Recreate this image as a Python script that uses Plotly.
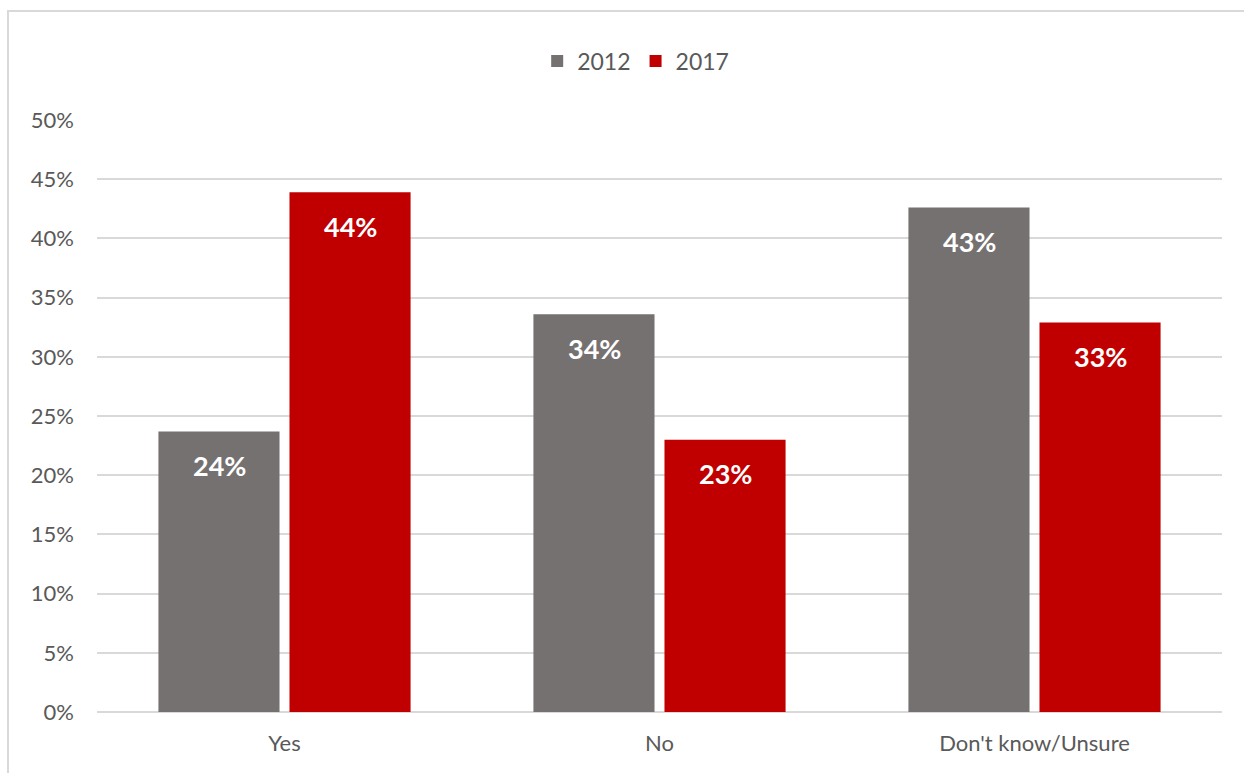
import plotly.graph_objects as go

# Survey responses by year (percent of respondents)
categories = ["Yes", "No", "Don't know/Unsure"]
values_2012 = [23.7, 33.6, 42.6]
values_2017 = [43.9, 23.0, 32.9]
series_names = ["2012", "2017"]
tick_values = [0, 5, 10, 15, 20, 25, 30, 35, 40, 45, 50]
tick_labels = [f"{t}%" for t in tick_values]

GRAY = "#767171"
RED = "#C00000"
TEXT = "#595959"
GRID = "#D9D9D9"
FONT = "Lato"

fig = go.Figure()
fig.add_trace(go.Bar(x=categories, y=values_2012, name=series_names[0],
                     marker=dict(color=GRAY, line=dict(width=0))))
fig.add_trace(go.Bar(x=categories, y=values_2017, name=series_names[1],
                     marker=dict(color=RED, line=dict(width=0))))

# Value labels placed just inside the top of each bar
annotations = []
for vals, shift in ((values_2012, -65.5), (values_2017, 65.5)):
    for cat, v in zip(categories, vals):
        annotations.append(dict(
            x=cat, y=v, xref="x", yref="y", text=f"{v:.0f}%",
            showarrow=False, xshift=shift, yshift=-34, yanchor="middle",
            font=dict(family=FONT, size=27, color="white", weight="bold"),
        ))

fig.update_layout(
    width=1244, height=773,
    margin=dict(l=97, r=22, t=120, b=61),
    paper_bgcolor="white", plot_bgcolor="white",
    barmode="group", bargap=0.301, bargroupgap=0.076,
    font=dict(family=FONT, size=22, color=TEXT),
    showlegend=True,
    legend=dict(orientation="h", xref="container", x=0.511, xanchor="center",
                yref="container", y=0.921, yanchor="middle",
                font=dict(family=FONT, size=23, color=TEXT),
                itemwidth=30, traceorder="normal"),
    xaxis=dict(showgrid=False, showline=False, ticks="",
               ticklabelstandoff=16,
               tickfont=dict(family=FONT, size=22, color=TEXT)),
    yaxis=dict(range=[0, 50], tickmode="array", tickvals=tick_values,
               ticktext=tick_labels,
               showgrid=True, gridcolor=GRID, gridwidth=2,
               zeroline=True, zerolinecolor=GRID, zerolinewidth=2,
               showline=False, ticks="", ticklabelstandoff=22,
               tickfont=dict(family=FONT, size=22, color=TEXT)),
    annotations=annotations,
    shapes=[dict(type="rect", xref="paper", yref="paper",
                 x0=-0.0791, x1=1.2, y0=-0.2, y1=1.184,
                 line=dict(color=GRID, width=2), fillcolor="rgba(0,0,0,0)",
                 layer="below")],
)

fig.write_html("out.html")
